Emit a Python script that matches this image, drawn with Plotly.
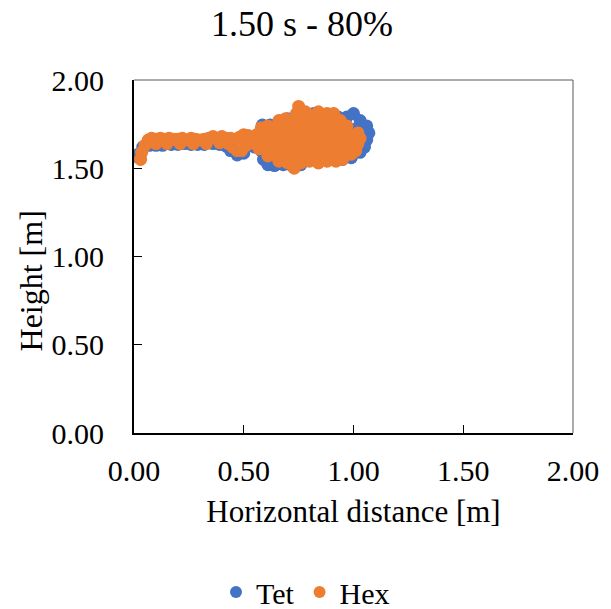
import plotly.graph_objects as go

# Trajectory samples (horizontal distance, height) at 1.50 s, 80 % fill
tet_x = [0.015, 0.02, 0.04, 0.07, 0.10, 0.13, 0.17, 0.20, 0.23, 0.26, 0.29, 0.32,
         0.36, 0.39, 0.42, 0.44, 0.47, 0.50, 0.52, 0.55,
         0.97, 1.00, 1.03, 1.06, 1.07, 1.06, 1.05, 1.03, 0.99, 0.95,
         0.59, 0.61, 0.64, 0.68, 0.72, 0.76, 0.58, 0.57, 0.59, 0.62, 0.585,
         0.70, 0.76, 0.82, 0.88, 0.93,
         0.65, 0.70, 0.75, 0.80, 0.85, 0.90, 0.95, 1.00, 0.80, 0.68, 0.88]
tet_y = [1.565, 1.58, 1.62, 1.63, 1.63, 1.63, 1.635, 1.635, 1.64, 1.635, 1.635, 1.635,
         1.64, 1.635, 1.625, 1.60, 1.575, 1.585, 1.64, 1.62,
         1.79, 1.81, 1.77, 1.74, 1.70, 1.66, 1.62, 1.59, 1.56, 1.55,
         1.55, 1.52, 1.515, 1.52, 1.515, 1.52, 1.60, 1.66, 1.72, 1.745, 1.745,
         1.78, 1.80, 1.81, 1.80, 1.79,
         1.65, 1.62, 1.68, 1.60, 1.70, 1.63, 1.67, 1.72, 1.75, 1.58, 1.56]

hex_x = [0.03, 0.035, 0.05, 0.065, 0.08, 0.10, 0.12, 0.14, 0.16, 0.18, 0.20, 0.22,
         0.24, 0.26, 0.28, 0.30, 0.32, 0.34, 0.36, 0.38, 0.40, 0.42,
         0.10, 0.15, 0.21, 0.27, 0.33, 0.39,
         0.43, 0.45, 0.47, 0.49, 0.51, 0.53, 0.55,
         0.44, 0.46, 0.48, 0.50, 0.52, 0.54,
         0.75,
         0.74, 0.78, 0.81, 0.84, 0.88, 0.91,
         0.66, 0.69, 0.73, 0.77, 0.80, 0.84, 0.87, 0.91, 0.94,
         0.58, 0.61, 0.65, 0.69, 0.72, 0.76, 0.79, 0.83, 0.86, 0.90, 0.93, 0.97,
         0.56, 0.60, 0.63, 0.67, 0.70, 0.74, 0.77, 0.81, 0.84, 0.88, 0.91, 0.95, 0.98, 1.02, 1.03,
         0.55, 0.58, 0.62, 0.65, 0.69, 0.72, 0.76, 0.79, 0.83, 0.86, 0.90, 0.93, 0.97, 1.00, 1.02,
         0.57, 0.60, 0.64, 0.67, 0.71, 0.74, 0.78, 0.81, 0.85, 0.88, 0.92, 0.95, 0.99, 1.01,
         0.61, 0.64, 0.68, 0.71, 0.75, 0.78, 0.82, 0.85, 0.89, 0.92, 0.96, 0.99,
         0.66, 0.70, 0.73, 0.76, 0.80, 0.84, 0.88, 0.92, 0.95,
         0.73]
hex_y = [1.55, 1.59, 1.63, 1.66, 1.67, 1.665, 1.67, 1.665, 1.67, 1.665, 1.665, 1.67,
         1.66, 1.67, 1.665, 1.66, 1.665, 1.67, 1.68, 1.67, 1.68, 1.67,
         1.64, 1.64, 1.64, 1.64, 1.64, 1.645,
         1.64, 1.62, 1.60, 1.60, 1.63, 1.66, 1.64,
         1.67, 1.665, 1.675, 1.69, 1.685, 1.67,
         1.85,
         1.81, 1.82, 1.80, 1.82, 1.81, 1.81,
         1.77, 1.78, 1.77, 1.78, 1.77, 1.78, 1.77, 1.78, 1.77,
         1.73, 1.74, 1.73, 1.74, 1.73, 1.74, 1.73, 1.74, 1.73, 1.74, 1.73, 1.74,
         1.69, 1.70, 1.69, 1.70, 1.69, 1.70, 1.69, 1.70, 1.69, 1.70, 1.69, 1.70, 1.69, 1.70, 1.67,
         1.65, 1.66, 1.65, 1.66, 1.65, 1.66, 1.65, 1.66, 1.65, 1.66, 1.65, 1.66, 1.65, 1.66, 1.64,
         1.61, 1.62, 1.61, 1.62, 1.61, 1.62, 1.61, 1.62, 1.61, 1.62, 1.61, 1.62, 1.61, 1.60,
         1.57, 1.58, 1.57, 1.58, 1.57, 1.58, 1.57, 1.58, 1.57, 1.58, 1.57, 1.58,
         1.54, 1.53, 1.52, 1.53, 1.54, 1.53, 1.54, 1.54, 1.55,
         1.50]

tick_vals = [0.0, 0.5, 1.0, 1.5, 2.0]
tick_text = ["0.00", "0.50", "1.00", "1.50", "2.00"]

FONT = "Liberation Serif"

fig = go.Figure()
fig.add_trace(go.Scatter(x=tet_x, y=tet_y, mode="markers", name="Tet",
                         marker=dict(color="#4472C4", size=13, line=dict(width=0))))
fig.add_trace(go.Scatter(x=hex_x, y=hex_y, mode="markers", name="Hex",
                         marker=dict(color="#ED7D31", size=13, line=dict(width=0))))

axis_common = dict(
    range=[0, 2], tickvals=tick_vals, ticktext=tick_text,
    showgrid=False, zeroline=False,
    showline=True, linecolor="black", linewidth=2,
    ticks="inside", ticklen=8, tickwidth=1, tickcolor="black",
    tickfont=dict(family=FONT, size=30, color="black"),
)

fig.update_xaxes(**axis_common, ticklabelstandoff=10,
                 title=dict(text="Horizontal distance [m]", standoff=14,
                            font=dict(family=FONT, size=31, color="black")))
fig.update_yaxes(**axis_common, ticklabelstandoff=22)

# vertical axis title, placed a little below the middle of the axis
fig.add_annotation(text="Height [m]", textangle=-90, showarrow=False,
                   xref="paper", yref="paper", x=-0.234, y=0.43,
                   xanchor="center", yanchor="middle",
                   font=dict(family=FONT, size=32, color="black"))

# thin frame on the top and right sides of the plot area
fig.add_shape(type="line", xref="x domain", yref="y domain", x0=0, x1=1, y0=1, y1=1,
              line=dict(color="#595959", width=1))
fig.add_shape(type="line", xref="x domain", yref="y domain", x0=1, x1=1, y0=0, y1=1,
              line=dict(color="#595959", width=1))

fig.update_layout(
    width=611, height=609,
    margin=dict(l=134, r=33, t=80, b=176),
    paper_bgcolor="white", plot_bgcolor="white",
    font=dict(family=FONT, color="black"),
    title=dict(text="1.50 s - 80%", x=302 / 611, xanchor="center", xref="container",
               y=1 - 23 / 609, yanchor="middle", yref="container",
               font=dict(family=FONT, size=36, color="black")),
    showlegend=True,
    legend=dict(orientation="h", x=0.5, xref="container", xanchor="center",
                y=1 - 592 / 609, yref="container", yanchor="middle",
                font=dict(family=FONT, size=30, color="black"),
                itemsizing="constant", itemwidth=30, tracegroupgap=0,
                bgcolor="rgba(0,0,0,0)"),
)

fig.write_html("out.html")
